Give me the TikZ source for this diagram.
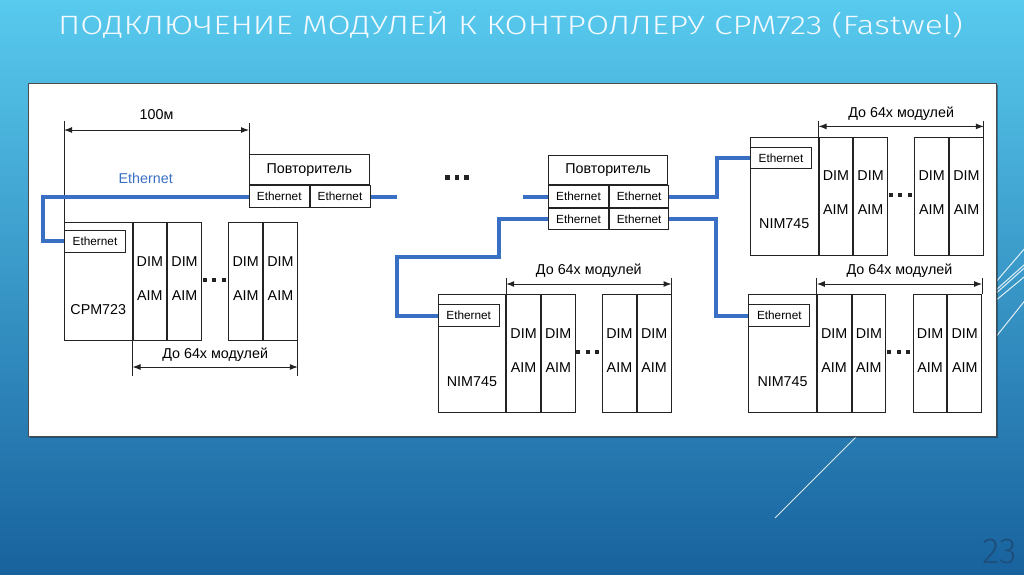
\documentclass[tikz,border=0pt]{standalone}
\usepackage{fontspec}
\setmainfont{Liberation Sans}
\newfontfamily\titlefont{Fira Sans Light}
\usetikzlibrary{arrows.meta,calc}

\definecolor{wireblue}{RGB}{58,112,196}
\definecolor{bgtop}{RGB}{88,202,238}
\definecolor{bgbot}{RGB}{24,98,158}
\definecolor{numblue}{RGB}{30,78,122}
\definecolor{linegray}{RGB}{35,35,35}
\definecolor{titlecol}{RGB}{242,250,255}

\newcommand{\ethf}{\fontsize{11.8}{13}\selectfont}
\newcommand{\txtf}{\fontsize{14.3}{16}\selectfont}

% #1 prefix, #2 x, #3 y (top), #4 label, #5 offset of Ethernet box
\newcommand{\Rack}[5]{%
  \node[frame, minimum width=67.5pt, minimum height=118pt, anchor=north west] (#1h) at (#2,#3) {};
  \node[frame, font=\ethf, minimum width=61pt, minimum height=21.5pt, anchor=north west] (#1eth) at ([yshift=-#5pt]#1h.north west) {Ethernet};
  \node[frame, modw, anchor=north west] (#1m1) at (#1h.north east) {};
  \node[frame, modw, anchor=north west] (#1m2) at (#1m1.north east) {};
  \node[frame, modw, anchor=north west] (#1m3) at ([xshift=26.5pt]#1m2.north east) {};
  \node[frame, modw, anchor=north west] (#1m4) at (#1m3.north east) {};
  \foreach \m in {1,2,3,4}{%
    \node[txt] (#1d\m) at ([yshift=-41.5pt]#1m\m.north) {DIM};
    \node[txt] (#1a\m) at ([yshift=-75.6pt]#1m\m.north) {AIM};
  }
  \node[txt] (#1lab) at ([yshift=-89.5pt]#1h.north) {#4};
  \foreach \dx in {0.8,10.3,19.8}{%
    \fill[linegray] ($(#1m2.north east)+(\dx,56)$) rectangle ++(4,4);
  }
}

% dimension above a rack
\newcommand{\DimUp}[1]{%
  \coordinate (#1u1) at ($(#1m1.north west)+(0,-16)$);
  \coordinate (#1u2) at ($(#1m4.north east)+(0,-16)$);
  \draw[dimline] (#1u1) -- (#1m1.north west);
  \draw[dimline] (#1u2) -- (#1m4.north east);
  \draw[dimarrow] ($(#1m1.north west)+(0,-10.3)$) -- ($(#1m4.north east)+(0,-10.3)$);
  \node[txt] (#1dim) at ($(#1m1.north west)!0.5!(#1m4.north east)+(0,-22)$) {До 64х модулей};
}

\begin{document}
\begin{tikzpicture}[x=1pt,y=-1pt,
  frame/.style={draw=linegray, line width=1pt, inner sep=0pt, fill=white},
  modw/.style={minimum width=33.7pt, minimum height=118pt},
  txt/.style={inner sep=0pt, font=\txtf, anchor=mid},
  wire/.style={draw=wireblue, line width=4pt},
  dimline/.style={draw=linegray, line width=1pt},
  dimarrow/.style={draw=linegray, line width=1pt, {Latex[length=8pt,width=6pt]}-{Latex[length=8pt,width=6pt]}},
  deco/.style={draw=white, line width=1pt, opacity=0.85}]

\useasboundingbox (0,0) rectangle (1024,574);
\shade[top color=bgtop, bottom color=bgbot] (0,0) rectangle (1024,574);

% decorative lines
\draw[deco] (990,288.7) -- (1030,242.3);
\draw[deco] (990,295.4) -- (1030,259.6);
\draw[deco] (990,298.7) -- (1030,262.9);
\draw[deco] (990,305.2) -- (1030,272.1);
\draw[deco] (990,344.2) -- (1030,294.2);
\draw[deco] (857,436) -- (775,518);

% white panel
\fill[black, opacity=0.35] (29.5,84.5) rectangle (997.5,437.5);
\draw[fill=white, draw=black!70, line width=1pt] (28,83) rectangle (996,436);

% title and page number
\node[anchor=base west, inner sep=0pt, text=titlecol, font=\titlefont\fontsize{26.5}{30}\selectfont] (title) at (58,34.3) {\scalebox{1.265}[1]{ПОДКЛЮЧЕНИЕ МОДУЛЕЙ К КОНТРОЛЛЕРУ CPM723 (Fastwel)}};
\node[anchor=base east, inner sep=0pt, text=numblue, font=\titlefont\fontsize{36}{40}\selectfont] (pnum) at (1017,563) {23};

% repeaters
\node[frame, font=\txtf, minimum width=119.5pt, minimum height=30pt, anchor=north west] (r1t) at (249,154.3) {Повторитель};
\node[frame, font=\ethf, minimum width=59.5pt, minimum height=21.7pt, anchor=north west] (r1a) at (r1t.south west) {Ethernet};
\node[frame, font=\ethf, minimum width=60pt, minimum height=21.7pt, anchor=north west] (r1b) at (r1a.north east) {Ethernet};

\node[frame, font=\txtf, minimum width=119.3pt, minimum height=29.6pt, anchor=north west] (r2t) at (548,154.7) {Повторитель};
\node[frame, font=\ethf, minimum width=60pt, minimum height=21.4pt, anchor=north west] (r2a) at (r2t.south west) {Ethernet};
\node[frame, font=\ethf, minimum width=59.3pt, minimum height=21.4pt, anchor=north west] (r2b) at (r2a.north east) {Ethernet};
\node[frame, font=\ethf, minimum width=60pt, minimum height=21.6pt, anchor=north west] (r2c) at (r2a.south west) {Ethernet};
\node[frame, font=\ethf, minimum width=59.3pt, minimum height=21.6pt, anchor=north west] (r2d) at (r2c.north east) {Ethernet};

% racks
\Rack{c}{64}{222}{CPM723}{8}
\Rack{a}{437.7}{294.3}{NIM745}{10}
\Rack{b}{750}{136.7}{NIM745}{10}
\Rack{k}{748.3}{294.3}{NIM745}{10}

% dimensions
\coordinate (hd1) at (64,120.7);
\coordinate (hd2) at (249,123);
\draw[dimline] (hd1) -- (ch.north west);
\draw[dimline] (hd2) -- (r1t.north west);
\draw[dimarrow] (64,130) -- (249,130);
\node[txt] (dist) at (156.5,117) {100м};

\coordinate (cl1) at ($(cm1.south west)+(0,35)$);
\coordinate (cl2) at ($(cm4.south east)+(0,35)$);
\draw[dimline] (cm1.south west) -- (cl1);
\draw[dimline] (cm4.south east) -- (cl2);
\draw[dimarrow] ($(cm1.south west)+(0,26)$) -- ($(cm4.south east)+(0,26)$);
\node[txt] (cdim) at ($(cm1.south west)!0.5!(cm4.south east)+(0,15)$) {До 64х модулей};

\DimUp{a}
\DimUp{b}
\DimUp{k}

% middle dots
\foreach \dx in {445,454.5,464}{\fill[linegray] (\dx,175.2) rectangle ++(4.6,4.6);}

% Ethernet wires
\node[txt, text=wireblue] (ethlab) at (145.7,181) {Ethernet};
\coordinate (e1) at ($(r1b.east)+(26.5,0)$);
\coordinate (e2) at ($(r2a.west)+(-25.5,0)$);
\draw[wire] (r1a.west) -| ([xshift=-21pt]ceth.west) -- (ceth.west);
\draw[wire] (r1b.east) -- (e1);
\draw[wire] (e2) -- (r2a.west);
\draw[wire] (r2c.west) -| (499.3,256.7) -| ([xshift=-40.7pt]aeth.west) -- (aeth.west);
\draw[wire] (r2b.east) -| ([xshift=-33.3pt]beth.west) -- (beth.west);
\draw[wire] (r2d.east) -| ([xshift=-32.3pt]keth.west) -- (keth.west);

\end{tikzpicture}
\end{document}
